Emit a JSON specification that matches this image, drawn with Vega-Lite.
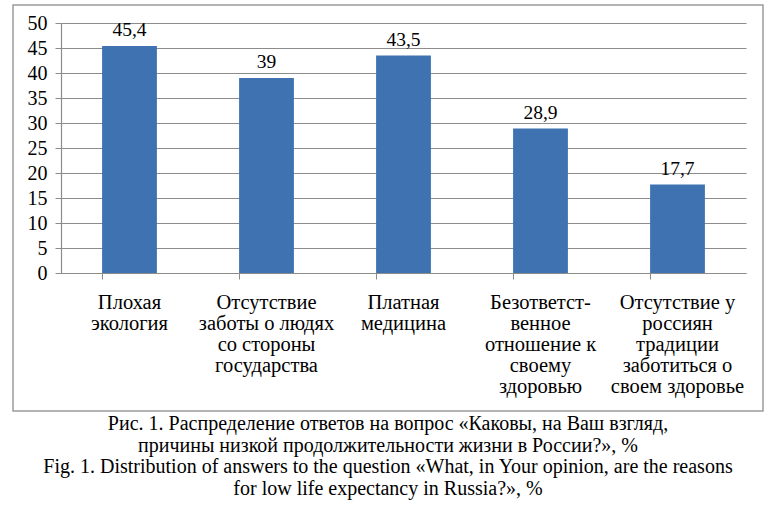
{
  "$schema": "https://vega.github.io/schema/vega-lite/v6.json",
  "autosize": "none",
  "width": 750,
  "height": 406,
  "padding": {"left": 13, "top": 5, "right": 17, "bottom": 103},
  "background": "white",
  "config": {
    "locale": {"number": {"decimal": ",", "thousands": " ", "grouping": [3], "currency": ["", ""]}},
    "font": "Liberation Serif",
    "view": {"stroke": "#9c9c9c", "strokeWidth": 1.5}
  },
  "title": {
    "text": [
      "Рис. 1. Распределение ответов на вопрос «Каковы, на Ваш взгляд,",
      "причины низкой продолжительности жизни в России?», %"
    ],
    "subtitle": [
      "Fig. 1. Distribution of answers to the question «What, in Your opinion, are the reasons",
      "for low life expectancy in Russia?», %"
    ],
    "orient": "bottom",
    "anchor": "middle",
    "font": "Liberation Serif",
    "fontSize": 20,
    "fontWeight": "normal",
    "lineHeight": 22,
    "color": "black",
    "subtitleFont": "Liberation Serif",
    "subtitleFontSize": 20,
    "subtitleLineHeight": 22,
    "subtitleColor": "black",
    "subtitlePadding": 1,
    "offset": 3
  },
  "data": {
    "values": [
      {"cause": "Плохая|экология", "value": 45.4},
      {"cause": "Отсутствие|заботы о людях|со стороны|государства", "value": 39},
      {"cause": "Платная|медицина", "value": 43.5},
      {"cause": "Безответст-|венное|отношение к|своему|здоровью", "value": 28.9},
      {"cause": "Отсутствие у|россиян|традиции|заботиться о|своем здоровье", "value": 17.7}
    ]
  },
  "encoding": {
    "x": {
      "field": "cause",
      "type": "nominal",
      "sort": null,
      "scale": {"range": [48, 733], "paddingInner": 0.6, "paddingOuter": 0.3},
      "axis": {
        "title": null,
        "offset": -138,
        "labelAngle": 0,
        "labelExpr": "split(datum.label, '|')",
        "labelFont": "Liberation Serif",
        "labelFontSize": 20.5,
        "labelLineHeight": 21,
        "labelColor": "black",
        "labelLimit": 0,
        "labelPadding": 13,
        "labelBaseline": "top",
        "bandPosition": 0,
        "tickSize": 6,
        "tickColor": "#8c8c8c",
        "domainColor": "#8c8c8c",
        "domainWidth": 1.2,
        "grid": false
      }
    },
    "y": {
      "field": "value",
      "type": "quantitative",
      "scale": {"domain": [0, 50], "range": [268, 18], "nice": false},
      "axis": {
        "title": null,
        "offset": -48,
        "values": [0, 5, 10, 15, 20, 25, 30, 35, 40, 45, 50],
        "labelFont": "Liberation Serif",
        "labelFontSize": 20,
        "labelColor": "black",
        "labelPadding": 8,
        "tickSize": 6,
        "tickColor": "#8c8c8c",
        "domainColor": "#8c8c8c",
        "domainWidth": 1.2,
        "grid": true,
        "gridColor": "#8c8c8c",
        "gridWidth": 1.2
      }
    }
  },
  "layer": [
    {"mark": {"type": "bar", "color": "#3e72b0"}},
    {
      "mark": {"type": "text", "baseline": "bottom", "dy": -6, "font": "Liberation Serif", "fontSize": 19.5, "color": "black"},
      "encoding": {"text": {"field": "value", "type": "quantitative", "format": ".1~f"}}
    }
  ]
}
